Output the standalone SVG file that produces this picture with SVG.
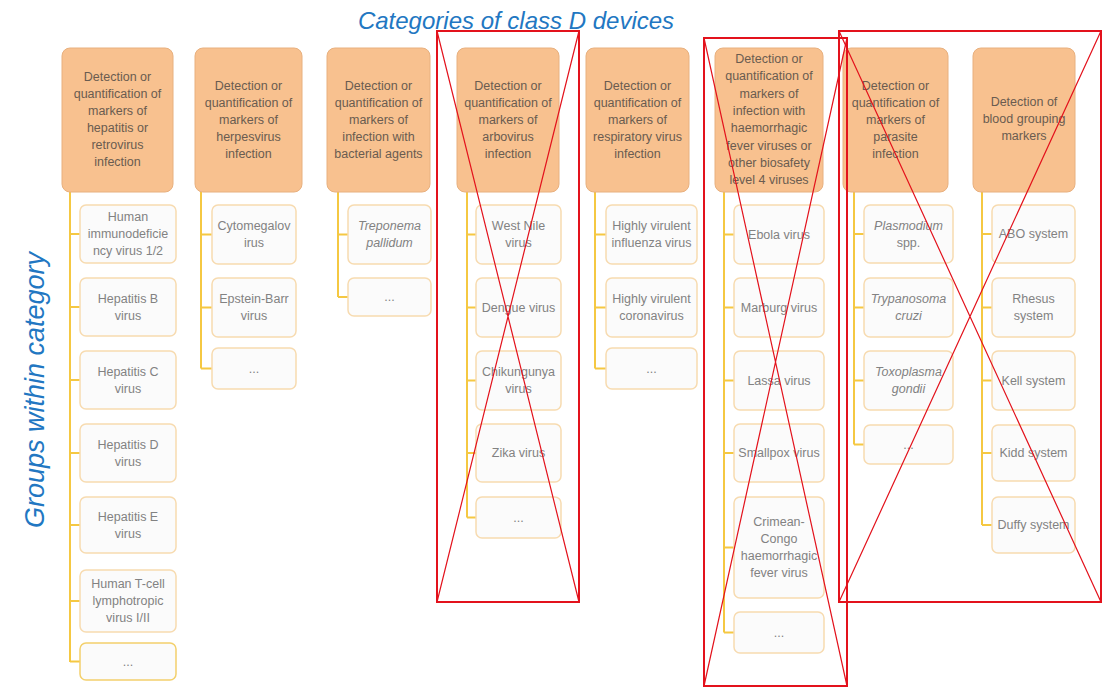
<svg xmlns="http://www.w3.org/2000/svg" width="1112" height="687" viewBox="0 0 1112 687">
<defs>
<style>
.hdr{fill:#f8c18f;stroke:#e8b07e;stroke-width:1}
.ht{font-family:"Liberation Sans",Arial,sans-serif;font-size:12.5px;fill:#6a5c50;text-anchor:middle}
.box{fill:#fbfbfb;stroke:#f7dbb0;stroke-width:1.5}
.ct{font-family:"Liberation Sans",Arial,sans-serif;font-size:12.5px;fill:#828282;text-anchor:middle}
.it{font-style:italic}
.con{stroke:#f5c842;stroke-width:2;fill:none}
.title{font-family:"Liberation Sans",Arial,sans-serif;font-style:italic;fill:#2277c2}
.red{stroke:#e3121c;fill:none}
</style>
</defs>
<rect width="1112" height="687" fill="#ffffff"/>
<text class="title" x="516" y="29" font-size="24" text-anchor="middle">Categories of class D devices</text>
<text class="title" transform="translate(44,390) rotate(-90)" font-size="27" text-anchor="middle">Groups within category</text>

<g id="connectors">
<path class="con" d="M70 192V662M70 234H80M70 307H80M70 380H80M70 453H80M70 525H80M70 601H80M70 661.5H80"/>
<path class="con" d="M201 192V368.5M201 234.5H212M201 307.5H212M201 368.5H212"/>
<path class="con" d="M338 192V297M338 234.5H348M338 297H348"/>
<path class="con" d="M467 192V517.5M467 234.5H476M467 307.5H476M467 380.5H476M467 453H476M467 517.5H476"/>
<path class="con" d="M595 192V368.5M595 234.5H606M595 307.5H606M595 368.5H606"/>
<path class="con" d="M724 192V632.5M724 234.5H734M724 307.5H734M724 380.5H734M724 453H734M724 547.5H734M724 632.5H734"/>
<path class="con" d="M854 192V444.5M854 234H864M854 307.5H864M854 380.5H864M854 444.5H864"/>
<path class="con" d="M982 192V525M982 234H992M982 307.5H992M982 380.5H992M982 453H992M982 525H992"/>
</g>

<g id="cat1">
<rect class="hdr" x="62" y="48" width="111" height="144" rx="8"/>
<text class="ht" x="117.5" y="81"><tspan x="117.5">Detection or</tspan><tspan x="117.5" dy="17">quantification of</tspan><tspan x="117.5" dy="17">markers of</tspan><tspan x="117.5" dy="17">hepatitis or</tspan><tspan x="117.5" dy="17">retrovirus</tspan><tspan x="117.5" dy="17">infection</tspan></text>
</g>
<g id="cat1-hiv"><rect class="box" x="80" y="205" width="96" height="58" rx="6"/><text class="ct" x="128" y="221"><tspan x="128">Human</tspan><tspan x="128" dy="17">immunodeficie</tspan><tspan x="128" dy="17">ncy virus 1/2</tspan></text></g>
<g id="cat1-hbv"><rect class="box" x="80" y="278" width="96" height="58" rx="6"/><text class="ct" x="128" y="303"><tspan x="128">Hepatitis B</tspan><tspan x="128" dy="17">virus</tspan></text></g>
<g id="cat1-hcv"><rect class="box" x="80" y="351" width="96" height="58" rx="6"/><text class="ct" x="128" y="376"><tspan x="128">Hepatitis C</tspan><tspan x="128" dy="17">virus</tspan></text></g>
<g id="cat1-hdv"><rect class="box" x="80" y="424" width="96" height="58" rx="6"/><text class="ct" x="128" y="449"><tspan x="128">Hepatitis D</tspan><tspan x="128" dy="17">virus</tspan></text></g>
<g id="cat1-hev"><rect class="box" x="80" y="497" width="96" height="56" rx="6"/><text class="ct" x="128" y="521"><tspan x="128">Hepatitis E</tspan><tspan x="128" dy="17">virus</tspan></text></g>
<g id="cat1-htlv"><rect class="box" x="80" y="570" width="96" height="62" rx="6"/><text class="ct" x="128" y="588"><tspan x="128">Human T-cell</tspan><tspan x="128" dy="17">lymphotropic</tspan><tspan x="128" dy="17">virus I/II</tspan></text></g>
<g id="cat1-more"><rect class="box" x="80" y="643" width="96" height="37" rx="6" style="stroke:#f3d06c"/><text class="ct" x="128" y="666">...</text></g>

<g id="cat2">
<rect class="hdr" x="195" y="48" width="107" height="144" rx="8"/>
<text class="ht" x="248.5" y="90"><tspan x="248.5">Detection or</tspan><tspan x="248.5" dy="17">quantification of</tspan><tspan x="248.5" dy="17">markers of</tspan><tspan x="248.5" dy="17">herpesvirus</tspan><tspan x="248.5" dy="17">infection</tspan></text>
</g>
<g id="cat2-cmv"><rect class="box" x="212" y="205" width="84" height="59" rx="6"/><text class="ct" x="254" y="230"><tspan x="254">Cytomegalov</tspan><tspan x="254" dy="17">irus</tspan></text></g>
<g id="cat2-ebv"><rect class="box" x="212" y="278" width="84" height="59" rx="6"/><text class="ct" x="254" y="303"><tspan x="254">Epstein-Barr</tspan><tspan x="254" dy="17">virus</tspan></text></g>
<g id="cat2-more"><rect class="box" x="212" y="348" width="84" height="41" rx="6"/><text class="ct" x="254" y="373">...</text></g>

<g id="cat3">
<rect class="hdr" x="327" y="48" width="103" height="144" rx="8"/>
<text class="ht" x="378.5" y="90"><tspan x="378.5">Detection or</tspan><tspan x="378.5" dy="17">quantification of</tspan><tspan x="378.5" dy="17">markers of</tspan><tspan x="378.5" dy="17">infection with</tspan><tspan x="378.5" dy="17">bacterial agents</tspan></text>
</g>
<g id="cat3-tp"><rect class="box" x="348" y="205" width="83" height="59" rx="6"/><text class="ct it" x="389.5" y="230"><tspan x="389.5">Treponema</tspan><tspan x="389.5" dy="17">pallidum</tspan></text></g>
<g id="cat3-more"><rect class="box" x="348" y="278" width="83" height="38" rx="6"/><text class="ct" x="389.5" y="301">...</text></g>

<g id="cat4">
<rect class="hdr" x="457" y="48" width="102" height="144" rx="8"/>
<text class="ht" x="508" y="90"><tspan x="508">Detection or</tspan><tspan x="508" dy="17">quantification of</tspan><tspan x="508" dy="17">markers of</tspan><tspan x="508" dy="17">arbovirus</tspan><tspan x="508" dy="17">infection</tspan></text>
</g>
<g id="cat4-wnv"><rect class="box" x="476" y="205" width="85" height="59" rx="6"/><text class="ct" x="518.5" y="230"><tspan x="518.5">West Nile</tspan><tspan x="518.5" dy="17">virus</tspan></text></g>
<g id="cat4-denv"><rect class="box" x="476" y="278" width="85" height="59" rx="6"/><text class="ct" x="518.5" y="312">Dengue virus</text></g>
<g id="cat4-chikv"><rect class="box" x="476" y="351" width="85" height="59" rx="6"/><text class="ct" x="518.5" y="376"><tspan x="518.5">Chikungunya</tspan><tspan x="518.5" dy="17">virus</tspan></text></g>
<g id="cat4-zikv"><rect class="box" x="476" y="424" width="85" height="58" rx="6"/><text class="ct" x="518.5" y="457">Zika virus</text></g>
<g id="cat4-more"><rect class="box" x="476" y="497" width="85" height="41" rx="6"/><text class="ct" x="518.5" y="522">...</text></g>

<g id="cat5">
<rect class="hdr" x="586" y="48" width="103" height="144" rx="8"/>
<text class="ht" x="637.5" y="90"><tspan x="637.5">Detection or</tspan><tspan x="637.5" dy="17">quantification of</tspan><tspan x="637.5" dy="17">markers of</tspan><tspan x="637.5" dy="17">respiratory virus</tspan><tspan x="637.5" dy="17">infection</tspan></text>
</g>
<g id="cat5-flu"><rect class="box" x="606" y="205" width="91" height="59" rx="6"/><text class="ct" x="651.5" y="230"><tspan x="651.5">Highly virulent</tspan><tspan x="651.5" dy="17">influenza virus</tspan></text></g>
<g id="cat5-cov"><rect class="box" x="606" y="278" width="91" height="59" rx="6"/><text class="ct" x="651.5" y="303"><tspan x="651.5">Highly virulent</tspan><tspan x="651.5" dy="17">coronavirus</tspan></text></g>
<g id="cat5-more"><rect class="box" x="606" y="348" width="91" height="41" rx="6"/><text class="ct" x="651.5" y="373">...</text></g>

<g id="cat6">
<rect class="hdr" x="715" y="48" width="108" height="144" rx="8"/>
<text class="ht" x="769" y="63"><tspan x="769">Detection or</tspan><tspan x="769" dy="17.3">quantification of</tspan><tspan x="769" dy="17.3">markers of</tspan><tspan x="769" dy="17.3">infection with</tspan><tspan x="769" dy="17.3">haemorrhagic</tspan><tspan x="769" dy="17.3">fever viruses or</tspan><tspan x="769" dy="17.3">other biosafety</tspan><tspan x="769" dy="17.3">level 4 viruses</tspan></text>
</g>
<g id="cat6-ebola"><rect class="box" x="734" y="205" width="90" height="59" rx="6"/><text class="ct" x="779" y="239">Ebola virus</text></g>
<g id="cat6-marburg"><rect class="box" x="734" y="278" width="90" height="59" rx="6"/><text class="ct" x="779" y="312">Marburg virus</text></g>
<g id="cat6-lassa"><rect class="box" x="734" y="351" width="90" height="59" rx="6"/><text class="ct" x="779" y="385">Lassa virus</text></g>
<g id="cat6-smallpox"><rect class="box" x="734" y="424" width="90" height="58" rx="6"/><text class="ct" x="779" y="457">Smallpox virus</text></g>
<g id="cat6-cchf"><rect class="box" x="734" y="497" width="90" height="101" rx="6"/><text class="ct" x="779" y="526"><tspan x="779">Crimean-</tspan><tspan x="779" dy="17">Congo</tspan><tspan x="779" dy="17">haemorrhagic</tspan><tspan x="779" dy="17">fever virus</tspan></text></g>
<g id="cat6-more"><rect class="box" x="734" y="612" width="90" height="41" rx="6"/><text class="ct" x="779" y="637">...</text></g>

<g id="cat7">
<rect class="hdr" x="843" y="48" width="105" height="144" rx="8"/>
<text class="ht" x="895.5" y="90"><tspan x="895.5">Detection or</tspan><tspan x="895.5" dy="17">quantification of</tspan><tspan x="895.5" dy="17">markers of</tspan><tspan x="895.5" dy="17">parasite</tspan><tspan x="895.5" dy="17">infection</tspan></text>
</g>
<g id="cat7-plasmodium"><rect class="box" x="864" y="205" width="89" height="58" rx="6"/><text class="ct" x="908.5" y="230"><tspan x="908.5" class="it">Plasmodium</tspan><tspan x="908.5" dy="17">spp.</tspan></text></g>
<g id="cat7-trypanosoma"><rect class="box" x="864" y="278" width="89" height="59" rx="6"/><text class="ct it" x="908.5" y="303"><tspan x="908.5">Trypanosoma</tspan><tspan x="908.5" dy="17">cruzi</tspan></text></g>
<g id="cat7-toxoplasma"><rect class="box" x="864" y="351" width="89" height="59" rx="6"/><text class="ct it" x="908.5" y="376"><tspan x="908.5">Toxoplasma</tspan><tspan x="908.5" dy="17">gondii</tspan></text></g>
<g id="cat7-more"><rect class="box" x="864" y="425" width="89" height="39" rx="6"/><text class="ct" x="908.5" y="449">...</text></g>

<g id="cat8">
<rect class="hdr" x="973" y="48" width="102" height="144" rx="8"/>
<text class="ht" x="1024" y="106"><tspan x="1024">Detection of</tspan><tspan x="1024" dy="17">blood grouping</tspan><tspan x="1024" dy="17">markers</tspan></text>
</g>
<g id="cat8-abo"><rect class="box" x="992" y="205" width="83" height="58" rx="6"/><text class="ct" x="1033.5" y="238">ABO system</text></g>
<g id="cat8-rhesus"><rect class="box" x="992" y="278" width="83" height="59" rx="6"/><text class="ct" x="1033.5" y="303"><tspan x="1033.5">Rhesus</tspan><tspan x="1033.5" dy="17">system</tspan></text></g>
<g id="cat8-kell"><rect class="box" x="992" y="351" width="83" height="59" rx="6"/><text class="ct" x="1033.5" y="385">Kell system</text></g>
<g id="cat8-kidd"><rect class="box" x="992" y="425" width="83" height="56" rx="6"/><text class="ct" x="1033.5" y="457">Kidd system</text></g>
<g id="cat8-duffy"><rect class="box" x="992" y="497" width="83" height="56" rx="6"/><text class="ct" x="1033.5" y="529">Duffy system</text></g>

<g id="cross-marks">
<rect class="red" x="437" y="31" width="142" height="571" stroke-width="2"/>
<path class="red" d="M437 31L579 602M579 31L437 602" stroke-width="1.2"/>
<rect class="red" x="704" y="38" width="143" height="648" stroke-width="2"/>
<path class="red" d="M704 38L847 686M847 38L704 686" stroke-width="1.2"/>
<rect class="red" x="839" y="31" width="262" height="571" stroke-width="2"/>
<path class="red" d="M839 31L1101 602M1101 31L839 602" stroke-width="1.2"/>
</g>
</svg>
